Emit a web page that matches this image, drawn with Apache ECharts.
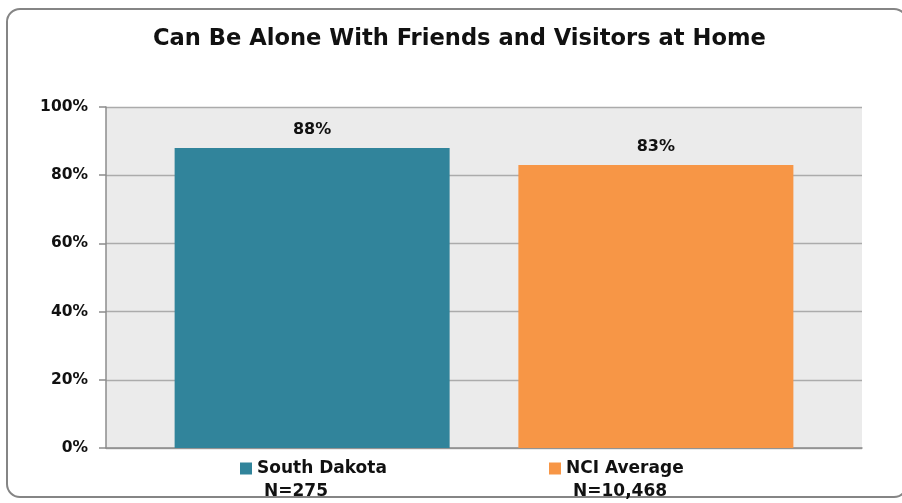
<!DOCTYPE html>
<html>
<head>
<meta charset="utf-8">
<script src="https://cdn.jsdelivr.net/npm/echarts@6/dist/echarts.min.js"></script>
<style>
  html, body { margin: 0; padding: 0; background: #fff; }
  #frame { position: absolute; left: 6px; top: 8px; width: 902px; height: 490px;
           border: 2px solid #858585; border-radius: 14px; box-sizing: border-box; }
  #main { position: absolute; left: 0; top: 0; width: 902px; height: 503px; }
</style>
</head>
<body>
<div id="frame"></div>
<div id="main"></div>
<script>
// chart data
const chartTitle = 'Can Be Alone With Friends and Visitors at Home';
const groups = ['South Dakota', 'NCI Average'];
const sampleSizes = ['N=275', 'N=10,468'];
const percents = [88, 83];
const barColors = ['#31849B', '#F79646'];
const yMin = 0, yMax = 100, yStep = 20;

const font = 'DejaVu Sans';

let chart = echarts.init(document.getElementById('main'), null, { renderer: 'canvas' });

let series = groups.map((name, i) => ({
    name: name,
    type: 'bar',
    data: [percents[i]],
    barWidth: 275,
    barGap: '25%',
    itemStyle: { color: barColors[i] },
    label: {
        show: true,
        position: 'top',
        distance: 10,
        formatter: '{c}%',
        fontFamily: font,
        fontWeight: 'bold',
        fontSize: 16,
        color: '#111'
    }
}));

let legendLeft = [240, 549];
let legends = groups.map((name, i) => ({
    data: [name],
    left: legendLeft[i],
    top: 460,
    padding: 0,
    icon: 'rect',
    itemWidth: 12,
    itemHeight: 12,
    itemGap: 0,
    formatter: n => '{t|' + n + '}\n{n|' + sampleSizes[i] + '}',
    textStyle: {
        padding: [23, 0, 0, 0],
        rich: {
            t: { fontFamily: font, fontWeight: 'bold', fontSize: 17, lineHeight: 23, color: '#111' },
            n: { fontFamily: font, fontWeight: 'bold', fontSize: 17, lineHeight: 23, color: '#111', padding: [0, 0, 0, 7] }
        }
    }
}));

let option = {
    animation: false,
    backgroundColor: 'transparent',
    title: {
        text: chartTitle,
        left: 148,
        top: 23,
        textStyle: { fontFamily: font, fontWeight: 'bold', fontSize: 22.6, color: '#111' }
    },
    legend: legends,
    grid: {
        left: 106, right: 40, top: 107, bottom: 55,
        show: true,
        backgroundColor: '#EBEBEB',
        borderWidth: 0
    },
    xAxis: {
        type: 'category',
        data: [''],
        axisLine: { show: true, lineStyle: { color: '#8c8c8c', width: 1.5 } },
        axisTick: { show: false },
        axisLabel: { show: false }
    },
    yAxis: {
        type: 'value',
        min: yMin,
        max: yMax,
        interval: yStep,
        axisLine: { show: true, lineStyle: { color: '#8c8c8c', width: 1.5 } },
        axisTick: { show: true, length: 7, lineStyle: { color: '#8c8c8c', width: 1.5 } },
        axisLabel: {
            formatter: '{value}%',
            margin: 18,
            fontFamily: font,
            fontWeight: 'bold',
            fontSize: 15.5,
            color: '#111'
        },
        splitLine: { show: true, lineStyle: { color: '#ababab', width: 1.3 } }
    },
    series: series
};

option && chart.setOption(option);
</script>
</body>
</html>
